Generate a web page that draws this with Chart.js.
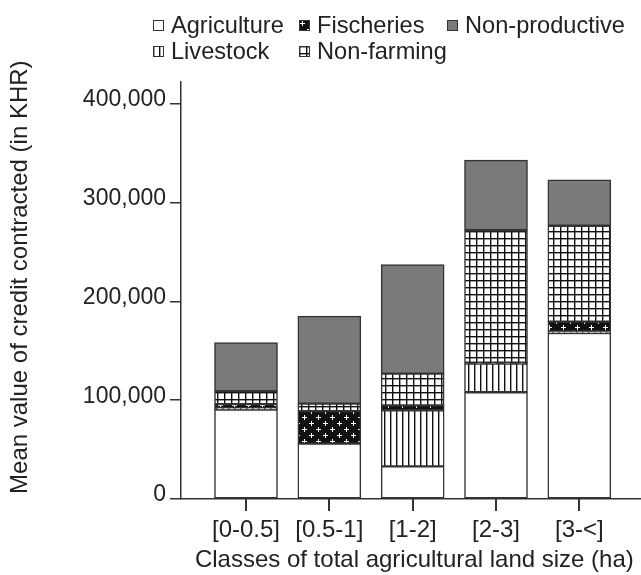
<!DOCTYPE html>
<html>
<head>
<meta charset="utf-8">
<script src="https://cdn.jsdelivr.net/npm/chart.js@4/dist/chart.umd.min.js"></script>
<style>
  body { margin: 0; background: #fff; }
  #wrap { position: relative; width: 641px; height: 575px; }
  #legend {
    position: absolute; left: 153px; top: 12px;
    display: grid; grid-template-columns: 146px 148px auto; grid-template-rows: 26px 26px;
    grid-auto-flow: column;
    font-family: "Liberation Sans", Arial, Helvetica, sans-serif; font-size: 23.6px; color: #222;
    line-height: 26px; white-space: nowrap;
  }
  #legend div { display: flex; align-items: center; }
  #legend canvas { margin-right: 7px; }
</style>
</head>
<body>
<div id="wrap">
  <canvas id="chart" width="641" height="575"></canvas>
  <div id="legend"></div>
</div>
<script>
// Land size classes (ha)
var classes = ['[0-0.5]', '[0.5-1]', '[1-2]', '[2-3]', '[3-<]'];

// Mean credit per purpose (KHR)
var agriculture   = [90500, 56000, 33000, 108000, 168000];
var livestock     = [1500, 0, 56800, 29000, 1500];
var fischeries    = [4000, 33000, 5000, 1000, 10000];
var nonFarming    = [13200, 7500, 32000, 134000, 97000];
var nonProductive = [49000, 88500, 110500, 71000, 46500];

var yTicks = [0, 100000, 200000, 300000, 400000];

var ctx = document.getElementById('chart').getContext('2d');
var fontFamily = '"Liberation Sans", Arial, Helvetica, sans-serif';
var ink = '#333';

function makePattern(w, h, draw) {
  var c = document.createElement('canvas');
  c.width = w; c.height = h;
  var g = c.getContext('2d');
  draw(g, w, h);
  return ctx.createPattern(c, 'repeat');
}

var fills = {
  white: '#ffffff',
  vlines: makePattern(6, 6, function (g, w, h) {
    g.fillStyle = '#fff'; g.fillRect(0, 0, w, h);
    g.fillStyle = '#111'; g.fillRect(0, 0, 1.4, h);
  }),
  crosses: makePattern(14, 12, function (g, w, h) {
    g.fillStyle = '#111'; g.fillRect(0, 0, w, h);
    g.fillStyle = '#fff';
    g.fillRect(1, 3, 5, 1); g.fillRect(3, 1, 1, 5);
    g.fillRect(8, 9, 5, 1); g.fillRect(10, 7, 1, 5);
  }),
  grid: makePattern(7, 7, function (g, w, h) {
    g.fillStyle = '#fff'; g.fillRect(0, 0, w, h);
    g.fillStyle = '#111'; g.fillRect(0, 0, w, 1.4); g.fillRect(0, 0, 1.4, h);
  }),
  grey: '#7a7a7a'
};

// Label, values, fill
var series = [
  ['Agriculture', agriculture, fills.white],
  ['Livestock', livestock, fills.vlines],
  ['Fischeries', fischeries, fills.crosses],
  ['Non-farming', nonFarming, fills.grid],
  ['Non-productive', nonProductive, fills.grey]
];

var datasets = series.map(function (s) {
  return {
    label: s[0],
    data: s[1].map(function (v, i) { return {x: i, y: v}; }),
    backgroundColor: s[2],
    borderColor: ink,
    borderWidth: 1.5,
    borderSkipped: false,
    barThickness: 63
  };
});

// Legend, laid out in columns like the original
var legend = document.getElementById('legend');
series.forEach(function (s) {
  var item = document.createElement('div');
  var sw = document.createElement('canvas');
  sw.width = 11; sw.height = 11;
  var g = sw.getContext('2d');
  g.fillStyle = s[2]; g.fillRect(0, 0, 11, 11);
  g.strokeStyle = ink; g.lineWidth = 1; g.strokeRect(0.5, 0.5, 10, 10);
  item.appendChild(sw);
  item.appendChild(document.createTextNode(s[0]));
  legend.appendChild(item);
});

// x tick marks under each class (the grid's own ones did not show up)
var xTickMarks = {
  id: 'xTickMarks',
  afterDraw: function (chart) {
    var sc = chart.scales.x;
    var c = chart.ctx;
    var bottom = Math.round(chart.chartArea.bottom);
    c.save();
    c.fillStyle = ink;
    classes.forEach(function (lab, i) {
      var px = Math.round(sc.getPixelForValue(i));
      c.fillRect(px - 1, bottom, 2, 12);
    });
    c.restore();
  }
};

new Chart(ctx, {
  type: 'bar',
  data: { datasets: datasets },
  plugins: [xTickMarks],
  options: {
    responsive: false,
    animation: false,
    layout: { padding: { top: 82, left: 0, right: 0, bottom: 0 } },
    plugins: { legend: { display: false }, tooltip: { enabled: false } },
    scales: {
      x: {
        type: 'linear',
        stacked: true,
        offset: false,
        min: -0.78,
        max: 4.74,
        border: { color: ink, width: 1.5 },
        grid: { display: false, tickLength: 12 },
        ticks: {
          stepSize: 1,
          includeBounds: false,
          autoSkip: false,
          maxRotation: 0,
          padding: 5,
          color: '#222',
          font: { family: fontFamily, size: 24 },
          callback: function (v) { return classes[v] !== undefined ? classes[v] : ''; }
        },
        title: {
          display: true,
          text: ' Classes of total agricultural land size (ha)',
          color: '#222',
          font: { family: fontFamily, size: 24 },
          padding: 0
        },
        afterFit: function (scale) { scale.height = 76; }
      },
      y: {
        stacked: true,
        min: 0,
        max: 422000,
        border: { color: ink, width: 1.5 },
        grid: { drawOnChartArea: false, drawTicks: true, tickLength: 11, color: ink, lineWidth: 1.5 },
        afterBuildTicks: function (scale) {
          scale.ticks = yTicks.map(function (v) { return {value: v}; });
        },
        ticks: {
          padding: 4,
          labelOffset: -4,
          color: '#222',
          font: { family: fontFamily, size: 23 },
          callback: function (v) { return v.toLocaleString('en-US'); }
        },
        title: {
          display: true,
          // leading spaces nudge the rotated title up a little, as in the original
          text: '    Mean value of credit contracted (in KHR)',
          color: '#222',
          font: { family: fontFamily, size: 24 },
          padding: { top: 6, bottom: 0 }
        },
        afterFit: function (scale) { scale.width = 181; }
      }
    }
  }
});
</script>
</body>
</html>
